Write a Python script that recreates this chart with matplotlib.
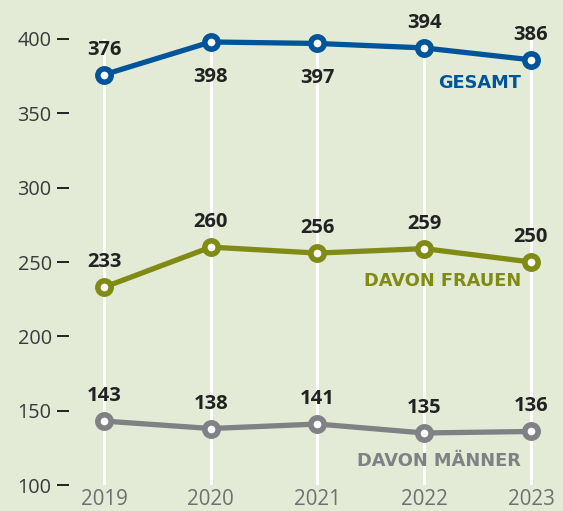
import matplotlib.pyplot as plt

# Werte je Jahr
years = [2019, 2020, 2021, 2022, 2023]
gesamt = [376, 398, 397, 394, 386]
frauen = [233, 260, 256, 259, 250]
maenner = [143, 138, 141, 135, 136]
y_ticks = [100, 150, 200, 250, 300, 350, 400]

bg = "#e3ead5"
blue = "#00559a"
olive = "#7f8b14"
grey = "#808184"

plt.rcParams["font.family"] = ["Open Sans", "DejaVu Sans"]

fig = plt.figure(figsize=(5.63, 5.11), dpi=100, facecolor=bg)
ax = fig.add_axes([69 / 563, 26 / 511, 494 / 563, 446 / 511], facecolor=bg)

ax.set_xlim(2018.672, 2023.3)
ax.set_ylim(100, 400)
for s in ax.spines.values():
    s.set_visible(False)

# weisse senkrechte Linien
for yr in years:
    ax.axvline(yr, color="white", lw=2.2, zorder=1)

ax.set_yticks(y_ticks)
ax.set_yticklabels([str(v) for v in y_ticks], fontsize=14.3, color="#3a3a3a")
ax.tick_params(axis="y", length=9, width=1.4, color="#222222", pad=3.5)
ax.set_xticks(years)
ax.set_xticklabels([str(y) for y in years], fontsize=14.8, color="#707070")
ax.tick_params(axis="x", length=0, pad=3)

series = [
    (gesamt, blue, [1, -1, -1, 1, 1]),
    (frauen, olive, [1, 1, 1, 1, 1]),
    (maenner, grey, [1, 1, 1, 1, 1]),
]
for vals, col, pos in series:
    ax.plot(years, vals, color=col, lw=3.8, marker="o", ms=9.6,
            mfc="white", mec=col, mew=4, zorder=3, clip_on=False)
    for x, v, p in zip(years, vals, pos):
        off = 18 if p > 0 else -25
        ax.annotate(str(v), (x, v), xytext=(0, off), textcoords="offset points",
                    ha="center", va="center", fontsize=14.5, fontweight="bold",
                    color="#222222", zorder=4)

# Serienbeschriftungen
lab = dict(textcoords="offset points", ha="right", va="center", fontsize=12.8,
           fontweight="bold", family="DejaVu Sans")
ax.annotate("GESAMT", (2023, gesamt[-1]), xytext=(-7, -17), color=blue, **lab)
ax.annotate("DAVON FRAUEN", (2023, frauen[-1]), xytext=(-7, -14), color=olive, **lab)
ax.annotate("DAVON MÄNNER", (2023, maenner[-1]), xytext=(-7, -21), color=grey, **lab)

fig.savefig("out.png", dpi=100, facecolor=bg)
